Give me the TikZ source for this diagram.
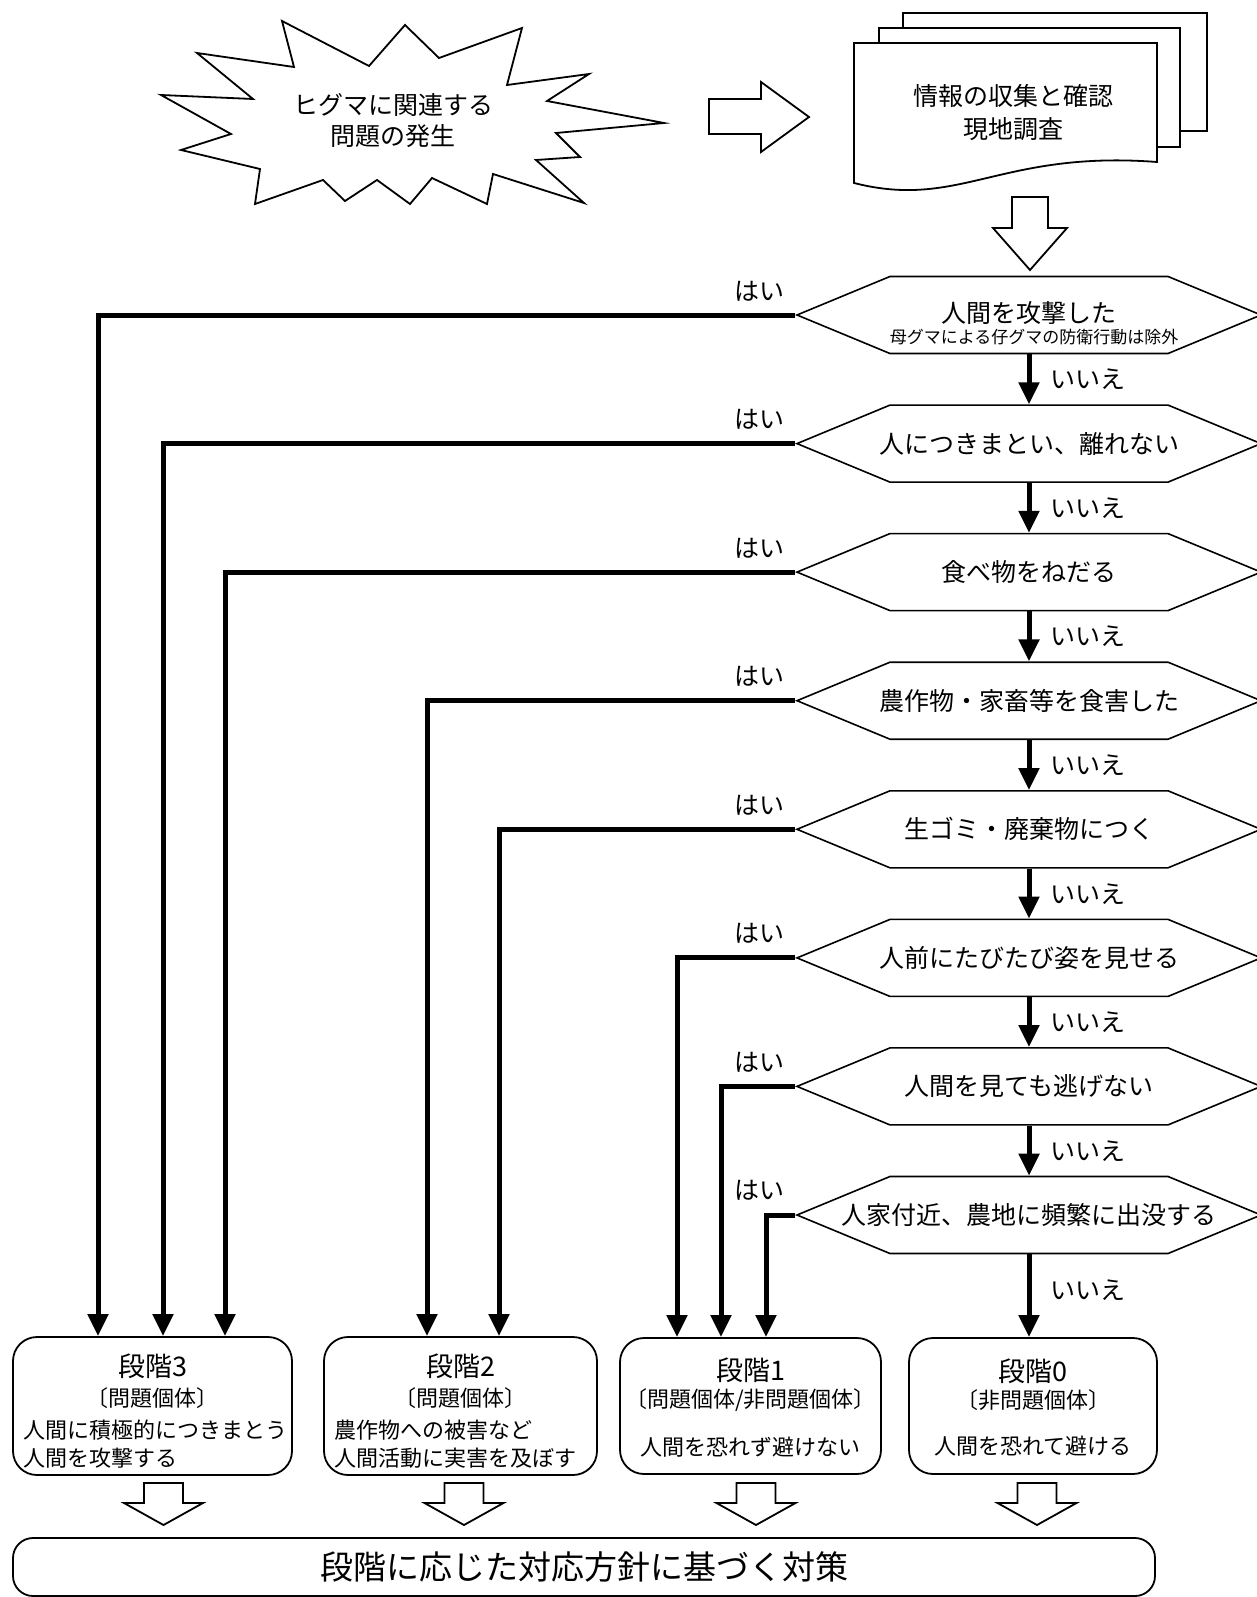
\documentclass[tikz,border=0pt]{standalone}
\usepackage{fontspec}
\setmainfont{Noto Sans CJK JP}
\usetikzlibrary{shapes.symbols,arrows.meta,positioning}
\tikzstyle{question} = [signal, signal to=west and east, signal pointer angle=45, draw=black, line width=1.6pt, minimum width=464pt, minimum height=77pt, inner sep=0pt, font=\fontsize{25}{30}\selectfont]
\tikzstyle{stage} = [rectangle, rounded corners=24pt, draw=black, line width=1.8pt, minimum height=138pt]
\tikzstyle{reply} = [inner sep=0pt, font=\fontsize{25}{30}\selectfont]
\tikzstyle{yesline} = [line width=5pt, -{Triangle[width=20pt,length=22pt]}]
\tikzstyle{noline} = [line width=5pt, -{Triangle[width=20pt,length=22pt]}]
\tikzstyle{outline} = [line width=1.8pt, line join=miter]
\tikzstyle{head} = [inner sep=0pt, font=\fontsize{27}{30}\selectfont]
\tikzstyle{sub} = [inner sep=0pt, font=\fontsize{22}{28}\selectfont]
\newcommand{\ask}[1]{\makebox[0pt]{#1}}
\newcommand{\dnarrow}[1]{\draw[outline] (#1) ++(-19.5,0) -- ++(39,0) -- ++(0,20) -- ++(20,0) -- ++(-39.5,22) -- ++(-39.5,-22) -- ++(20,0) -- cycle;}

\begin{document}
\begin{tikzpicture}[x=1pt, y=-1pt]
				\useasboundingbox (0,0) rectangle (1257,1597);
				% start
				\draw[outline] (161,95) -- (253,99) -- (197,53) -- (294,67) -- (282,21) -- (369,66) -- (405,25) -- (439,58) -- (522,28) -- (507,85) -- (589,74) -- (547,101) -- (664,123) -- (556,133) -- (580,157) -- (536,160) -- (584,203) -- (493,174) -- (487,204) -- (432,178) -- (410,204) -- (377,180) -- (345,201) -- (323,180) -- (255,204) -- (260,169) -- (181,150) -- (231,134) -- cycle;
				\node[reply, align=center, font=\fontsize{25}{31}\selectfont] (burst) at (393,121) {ヒグマに関連する\\問題の発生};
				\draw[outline] (709,99) -- (761,99) -- (761,82) -- (809,117) -- (761,152) -- (761,134) -- (709,134) -- cycle;
				% documents
				\draw[outline] (903,28) -- (903,13) -- (1207,13) -- (1207,131) -- (1180,131);
				\draw[outline] (879,43) -- (879,28) -- (1180,28) -- (1180,147) -- (1157,147);
				\draw[outline] (854,43) -- (1157,43) -- (1157,162) .. controls (1000,150) and (960,210) .. (854,183) -- cycle;
				\node[reply, align=center, font=\fontsize{25}{33}\selectfont] (docs) at (1013,113) {情報の収集と確認\\現地調査};
				\draw[outline] (1012,197) -- (1048,197) -- (1048,228) -- (1067,228) -- (1030,270) -- (993,228) -- (1012,228) -- cycle;
				% questions
				\node[question] (q1) at (1029,315) {\ask{\raisebox{6pt}{人間を攻撃した}}};
				\node[reply, font=\fontsize{17}{20}\selectfont] (q1note) at (1034,337) {母グマによる仔グマの防衛行動は除外};
				\node[question] (q2) at (1029,443.6) {\ask{人につきまとい、離れない}};
				\node[question] (q3) at (1029,572.1) {\ask{食べ物をねだる}};
				\node[question] (q4) at (1029,700.7) {\ask{農作物・家畜等を食害した}};
				\node[question] (q5) at (1029,829.3) {\ask{生ゴミ・廃棄物につく}};
				\node[question] (q6) at (1029,957.9) {\ask{人前にたびたび姿を見せる}};
				\node[question] (q7) at (1029,1086.4) {\ask{人間を見ても逃げない}};
				\node[question] (q8) at (1029,1215) {\ask{人家付近、農地に頻繁に出没する}};
				% stages
				\node[stage, minimum width=279pt] (s3) at (152.5,1406) {};
				\node[stage, minimum width=273pt] (s2) at (460.5,1406) {};
				\node[stage, minimum width=261pt, minimum height=136pt] (s1) at (750.5,1406) {};
				\node[stage, minimum width=248pt, minimum height=136pt] (s0) at (1033,1406) {};
				\node[head] (s3head) at (152.5,1366) {段階3};
				\node[sub] (s3kind) at (152.5,1398) {〔問題個体〕};
				\node[sub, anchor=west, align=left] (s3text) at (23,1444) {人間に積極的につきまとう\\人間を攻撃する};
				\node[head] (s2head) at (460.5,1366) {段階2};
				\node[sub] (s2kind) at (460.5,1398) {〔問題個体〕};
				\node[sub, anchor=west, align=left] (s2text) at (334,1444) {農作物への被害など\\人間活動に実害を及ぼす};
				\node[head] (s1head) at (750.5,1370) {段階1};
				\node[sub] (s1kind) at (750.5,1400) {〔問題個体/非問題個体〕};
				\node[sub] (s1text) at (750.5,1447) {人間を恐れず避けない};
				\node[head] (s0head) at (1033,1371) {段階0};
				\node[sub] (s0kind) at (1033,1400) {〔非問題個体〕};
				\node[sub] (s0text) at (1033,1446) {人間を恐れて避ける};
				\node[stage, minimum width=1142pt, minimum height=58pt, rounded corners=20pt, font=\fontsize{33}{36}\selectfont] (plan) at (584,1567) {段階に応じた対応方針に基づく対策};
				\dnarrow{163.5,1483}
				\dnarrow{464,1483}
				\dnarrow{756,1483}
				\dnarrow{1037,1483}
				% answers
				\node[reply] (yes1) at (759,291) {はい};
				\node[reply] (yes2) at (759,419) {はい};
				\node[reply] (yes3) at (759,548) {はい};
				\node[reply] (yes4) at (759,676) {はい};
				\node[reply] (yes5) at (759,805) {はい};
				\node[reply] (yes6) at (759,933) {はい};
				\node[reply] (yes7) at (759,1062) {はい};
				\node[reply] (yes8) at (759,1190) {はい};
				\node[reply, anchor=west] (no1) at (1050,379) {いいえ};
				\node[reply, anchor=west] (no2) at (1050,508) {いいえ};
				\node[reply, anchor=west] (no3) at (1050,636) {いいえ};
				\node[reply, anchor=west] (no4) at (1050,765) {いいえ};
				\node[reply, anchor=west] (no5) at (1050,894) {いいえ};
				\node[reply, anchor=west] (no6) at (1050,1022) {いいえ};
				\node[reply, anchor=west] (no7) at (1050,1151) {いいえ};
				\node[reply, anchor=west] (no8) at (1050,1290) {いいえ};
				% connectors
				\draw[noline] (q1.south) -- (q2.north);
				\draw[noline] (q2.south) -- (q3.north);
				\draw[noline] (q3.south) -- (q4.north);
				\draw[noline] (q4.south) -- (q5.north);
				\draw[noline] (q5.south) -- (q6.north);
				\draw[noline] (q6.south) -- (q7.north);
				\draw[noline] (q7.south) -- (q8.north);
				\draw[noline] (q8.south) -- (q8.south |- s0.north);
				\draw[yesline] (q1.west) -| ([xshift=-54.5pt]s3.north);
				\draw[yesline] (q2.west) -| ([xshift=10.5pt]s3.north);
				\draw[yesline] (q3.west) -| ([xshift=72.5pt]s3.north);
				\draw[yesline] (q4.west) -| ([xshift=-33.5pt]s2.north);
				\draw[yesline] (q5.west) -| ([xshift=38.5pt]s2.north);
				\draw[yesline] (q6.west) -| ([xshift=-73.5pt]s1.north);
				\draw[yesline] (q7.west) -| ([xshift=-29.5pt]s1.north);
				\draw[yesline] (q8.west) -| ([xshift=15.5pt]s1.north);
			\end{tikzpicture}
\end{document}
